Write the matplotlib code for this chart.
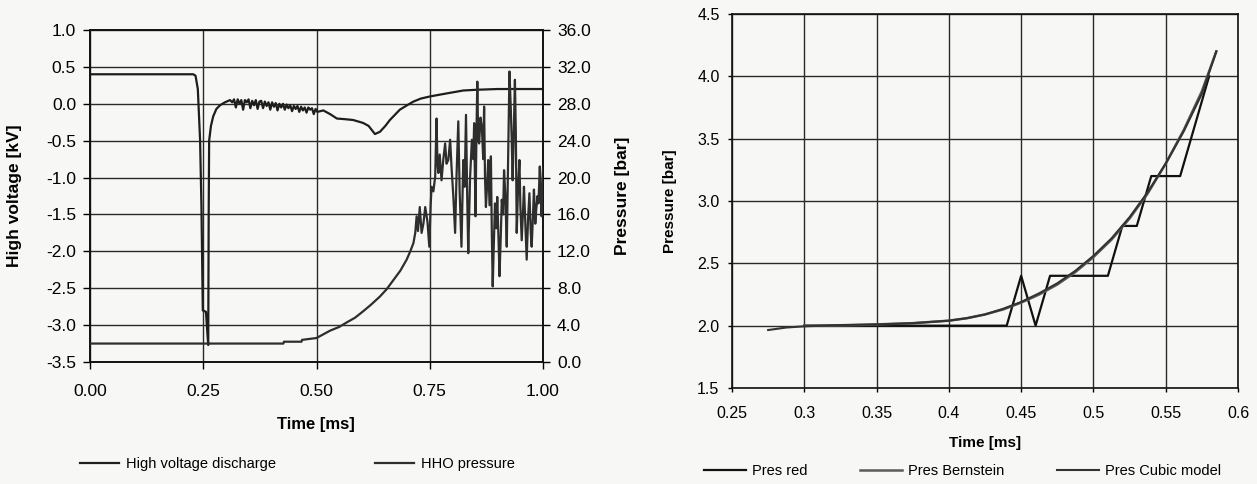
import matplotlib
matplotlib.use("Agg")
import matplotlib.pyplot as plt
from matplotlib.ticker import FormatStrFormatter, MultipleLocator

plt.rcParams.update({
    "font.family": ["Liberation Sans", "DejaVu Sans"],
    "font.size": 10,
})

W, H = 1257, 484

# ---- left panel: discharge voltage (kV) and HHO pressure (bar) ----
volt_t = [0.00, 0.10, 0.20, 0.228, 0.233, 0.238, 0.243, 0.246, 0.249, 0.256, 0.259, 0.261,
          0.262, 0.263, 0.267, 0.272, 0.279, 0.287, 0.298, 0.309,
          0.314, 0.318, 0.322, 0.326, 0.330, 0.334, 0.338, 0.342, 0.346, 0.350, 0.354, 0.358,
          0.362, 0.366, 0.370, 0.374, 0.378, 0.382, 0.386, 0.390, 0.394, 0.398, 0.402, 0.406,
          0.410, 0.414, 0.418, 0.422, 0.426, 0.430, 0.434, 0.438, 0.442, 0.446, 0.450, 0.454,
          0.458, 0.462, 0.466, 0.470, 0.474, 0.478, 0.482, 0.486, 0.490, 0.494, 0.498, 0.502,
          0.515, 0.530, 0.545, 0.565, 0.581, 0.603, 0.615, 0.629, 0.640, 0.652, 0.662, 0.684,
          0.700, 0.714, 0.730, 0.751, 0.787, 0.824, 0.854, 0.900, 0.950, 1.000]
volt_kv = [0.40, 0.40, 0.40, 0.40, 0.38, 0.20, -0.49, -1.39, -2.80, -2.82, -3.10, -3.27,
           -1.50, -0.50, -0.30, -0.17, -0.07, -0.02, 0.02, 0.05,
           0.02, 0.06, -0.05, 0.06, 0.00, 0.05, -0.08, 0.05, 0.02, 0.06, -0.06, 0.04,
           -0.02, 0.05, -0.07, 0.03, 0.04, -0.06, 0.03, -0.03, 0.02, -0.08, 0.02, -0.04,
           0.01, -0.09, 0.00, -0.05, 0.00, -0.08, -0.01, -0.06, -0.02, -0.10, -0.03, -0.07,
           -0.03, -0.11, -0.04, -0.09, -0.05, -0.12, -0.05, -0.08, -0.06, -0.14, -0.07, -0.11,
           -0.09, -0.14, -0.20, -0.21, -0.22, -0.26, -0.30, -0.41, -0.38, -0.30, -0.22, -0.08,
           -0.02, 0.03, 0.07, 0.10, 0.14, 0.18, 0.19, 0.20, 0.20, 0.20]

pres_t = [0.00, 0.25, 0.40, 0.427, 0.428, 0.467, 0.468, 0.500, 0.515, 0.530, 0.550, 0.567,
          0.585, 0.603, 0.620, 0.640, 0.655, 0.670, 0.685, 0.699, 0.707, 0.714, 0.718, 0.721,
          0.724, 0.728, 0.732, 0.736, 0.740, 0.745, 0.749, 0.752, 0.754, 0.758, 0.762, 0.765,
          0.767, 0.769, 0.772, 0.776, 0.780, 0.784, 0.787, 0.791, 0.795, 0.798, 0.802, 0.806,
          0.809, 0.813, 0.816, 0.820, 0.824, 0.827, 0.830, 0.833, 0.835, 0.839, 0.843, 0.846,
          0.848, 0.851, 0.853, 0.855, 0.857, 0.859, 0.862, 0.865, 0.868, 0.870, 0.872, 0.874,
          0.877, 0.879, 0.882, 0.885, 0.887, 0.889, 0.891, 0.894, 0.897, 0.899, 0.902, 0.904,
          0.907, 0.909, 0.912, 0.914, 0.917, 0.920, 0.923, 0.926, 0.929, 0.931, 0.933, 0.936,
          0.938, 0.940, 0.942, 0.945, 0.948, 0.950, 0.953, 0.956, 0.958, 0.961, 0.964, 0.967,
          0.970, 0.973, 0.975, 0.978, 0.980, 0.983, 0.985, 0.988, 0.990, 0.993, 0.995, 0.997,
          1.000]
pres_bar = [2.0, 2.0, 2.0, 2.0, 2.2, 2.2, 2.4, 2.6, 3.0, 3.4, 3.8, 4.3,
            4.8, 5.5, 6.2, 7.1, 7.9, 8.9, 9.9, 11.1, 12.0, 12.9, 14.0, 15.8,
            14.2, 16.8, 14.0, 15.0, 16.8, 15.2, 12.5, 17.0, 19.0, 18.5, 20.1, 26.4,
            21.5, 20.5, 22.5, 19.7, 22.0, 23.7, 21.5, 21.9, 24.1, 21.2, 18.0, 14.0,
            20.0, 26.1, 18.5, 12.5, 21.9, 19.0, 26.8, 17.0, 11.8, 20.0, 24.1, 22.0,
            25.9, 15.8, 24.5, 30.4, 24.0, 23.7, 26.5, 25.5, 22.0, 27.7, 20.0, 16.8,
            19.5, 21.9, 17.0, 22.3, 14.0, 8.2, 12.0, 17.2, 14.5, 17.9, 13.0, 9.3,
            14.0, 17.6, 16.0, 20.8, 18.0, 12.5, 22.0, 31.5, 27.3, 24.0, 19.7, 26.0,
            30.6, 25.0, 14.0, 19.0, 21.9, 17.0, 13.2, 16.5, 19.0, 15.0, 11.1, 15.5,
            18.3, 14.0, 12.5, 16.0, 18.7, 15.0, 16.5, 18.0, 17.2, 21.2, 18.0, 15.8,
            21.0]

# ---- right panel: pressure models ----
red_t = [0.30, 0.35, 0.40, 0.44, 0.45, 0.46, 0.47, 0.48, 0.49, 0.50, 0.51, 0.52, 0.53,
         0.54, 0.55, 0.56, 0.57, 0.58]
red_p = [2.0, 2.0, 2.0, 2.0, 2.4, 2.0, 2.4, 2.4, 2.4, 2.4, 2.4, 2.8, 2.8,
         3.2, 3.2, 3.2, 3.6, 4.0]

bern_t = [0.30, 0.3125, 0.325, 0.3375, 0.35, 0.3625, 0.375, 0.3875, 0.40, 0.4125, 0.425,
          0.4375, 0.45, 0.4625, 0.475, 0.4875, 0.50, 0.5125, 0.525, 0.5375, 0.55, 0.5625,
          0.575, 0.585]
bern_p = [2.0, 2.0, 2.002, 2.005, 2.01, 2.015, 2.02, 2.03, 2.04, 2.06, 2.09,
          2.13, 2.185, 2.25, 2.33, 2.43, 2.55, 2.69, 2.86, 3.06, 3.30, 3.57,
          3.88, 4.2]

cubic_t = [0.275, 0.2875, 0.30, 0.3125, 0.325, 0.3375, 0.35, 0.3625, 0.375, 0.3875, 0.40,
           0.4125, 0.425, 0.4375, 0.45, 0.4625, 0.475, 0.4875, 0.50, 0.5125, 0.525, 0.5375,
           0.55, 0.5625, 0.575, 0.585]
cubic_p = [1.965, 1.985, 1.995, 2.0, 2.005, 2.008, 2.01, 2.015, 2.02, 2.03, 2.04,
           2.06, 2.09, 2.135, 2.19, 2.26, 2.34, 2.44, 2.56, 2.70, 2.87, 3.07,
           3.30, 3.56, 3.86, 4.2]

BG = "#f7f7f5"
GRID = "#2a2a2a"

fig = plt.figure(figsize=(W / 100, H / 100), dpi=100, facecolor=BG)


def frac(x0, y0, x1, y1):
    return [x0 / W, 1 - y1 / H, (x1 - x0) / W, (y1 - y0) / H]


# left panel
ax1 = fig.add_axes(frac(90, 30, 543, 362))
ax1.set_facecolor(BG)
l1, = ax1.plot(volt_t, volt_kv, color="#1e1e1e", lw=1.6, zorder=3)
ax1.set_xlim(0, 1)
ax1.set_ylim(-3.5, 1.0)
ax1.xaxis.set_major_locator(MultipleLocator(0.25))
ax1.yaxis.set_major_locator(MultipleLocator(0.5))
ax1.xaxis.set_major_formatter(FormatStrFormatter("%.2f"))
ax1.yaxis.set_major_formatter(FormatStrFormatter("%.1f"))
ax1.grid(True, color=GRID, lw=1.0)
ax1.set_axisbelow(True)
ax1.tick_params(labelsize=12.5, length=5, pad=5, width=1)
ax1.tick_params(axis="x", pad=11)

ax2 = ax1.twinx()
l2, = ax2.plot(pres_t, pres_bar, color="#2e2e2e", lw=1.6, zorder=3)
ax2.set_ylim(0, 36)
ax2.yaxis.set_major_locator(MultipleLocator(4))
ax2.yaxis.set_major_formatter(FormatStrFormatter("%.1f"))
ax2.tick_params(labelsize=12.5, length=5, pad=5, width=1)
for ax in (ax1, ax2):
    for s in ax.spines.values():
        s.set_color("#111111")
        s.set_linewidth(1.2)

fig.text(15 / W, 1 - 196 / H, "High voltage [kV]", rotation=90, ha="center", va="center",
         fontsize=12.5, fontweight="bold")
fig.text(622 / W, 1 - 196 / H, "Pressure [bar]", rotation=90, ha="center", va="center",
         fontsize=12.5, fontweight="bold")
fig.text(316 / W, 1 - 424 / H, "Time [ms]", ha="center", va="center",
         fontsize=12, fontweight="bold")

fig.legend([l1, l2], ["High voltage discharge", "HHO pressure"],
           loc="center left", bbox_to_anchor=(80 / W, 1 - 464 / H), ncol=2,
           frameon=False, fontsize=10.5, handlelength=2.7, handletextpad=0.45,
           columnspacing=6.8, borderpad=0, borderaxespad=0)

# right panel
ax3 = fig.add_axes(frac(732, 14, 1238, 388))
ax3.set_facecolor(BG)
r1, = ax3.plot(red_t, red_p, color="#111111", lw=1.6, zorder=3, label="Pres red")
r2, = ax3.plot(bern_t, bern_p, color="#5a5a5a", lw=1.8, zorder=4, label="Pres Bernstein")
r3, = ax3.plot(cubic_t, cubic_p, color="#333333", lw=1.5, zorder=5, label="Pres Cubic model")
ax3.set_xlim(0.25, 0.6)
ax3.set_ylim(1.5, 4.5)
ax3.set_xticks([0.25, 0.3, 0.35, 0.4, 0.45, 0.5, 0.55, 0.6])
ax3.set_xticklabels(["0.25", "0.3", "0.35", "0.4", "0.45", "0.5", "0.55", "0.6"])
ax3.yaxis.set_major_locator(MultipleLocator(0.5))
ax3.yaxis.set_major_formatter(FormatStrFormatter("%.1f"))
ax3.grid(True, color=GRID, lw=1.0)
ax3.set_axisbelow(True)
ax3.tick_params(labelsize=11.5, length=3, pad=6, width=1)
ax3.tick_params(axis="x", pad=10)
for s in ax3.spines.values():
    s.set_color("#111111")
    s.set_linewidth(1.2)

fig.text(670 / W, 1 - 201 / H, "Pressure [bar]", rotation=90, ha="center", va="center",
         fontsize=11, fontweight="bold")
fig.text(985 / W, 1 - 443 / H, "Time [ms]", ha="center", va="center",
         fontsize=11, fontweight="bold")

fig.legend([r1, r2, r3], ["Pres red", "Pres Bernstein", "Pres Cubic model"],
           loc="center left", bbox_to_anchor=(704 / W, 1 - 471 / H), ncol=3,
           frameon=False, fontsize=10.5, handlelength=2.9, handletextpad=0.4,
           columnspacing=3.6, borderpad=0, borderaxespad=0)

fig.savefig("out.png", dpi=100, facecolor=BG)
